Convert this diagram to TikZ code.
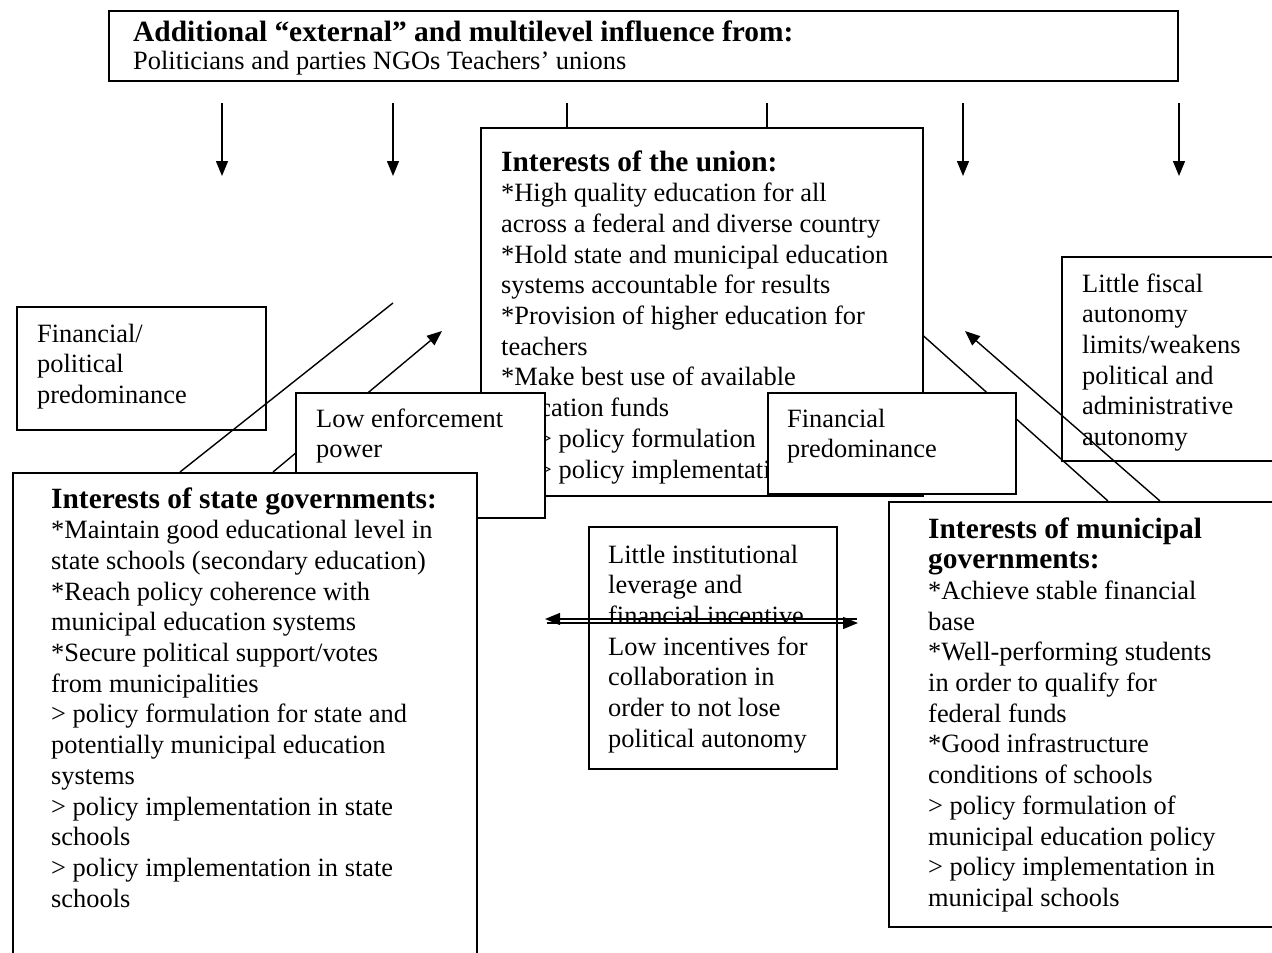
\documentclass[tikz,border=0pt]{standalone}
\usepackage{fontspec}
\setmainfont{Liberation Serif}
\usetikzlibrary{arrows.meta,calc}
\pgfdeclarelayer{bg}
\pgfdeclarelayer{mid}
\pgfsetlayers{bg,mid,main}
\tikzset{
  box/.style={draw, line width=1.6pt, fill=white, inner sep=0pt, anchor=north west, rectangle},
  txt/.style={anchor=base west, inner sep=0pt, text width=900pt, align=flush left, font=\fontsize{26.4}{30.7}\selectfont},
  con/.style={line width=1.4pt},
  arr/.style={con, -{Triangle[length=15pt,width=12pt]}}
}
\newcommand\hd[1]{{\fontsize{29.4}{32}\selectfont\bfseries #1}}
\begin{document}
\begin{tikzpicture}[x=1pt,y=-1pt]
\useasboundingbox (0,0) rectangle (1272,953);

% ---------- main layer: top box ----------
\node[box, minimum width=1069pt, minimum height=70pt] (top) at (108,10) {};
\node[txt] (toptxt) at (133,41) {\hd{Additional “external” and multilevel influence from:}\\[-2pt]Politicians and parties NGOs Teachers’ unions};

% ---------- state governments ----------
\node[box, minimum width=464pt, minimum height=540pt] (state) at (12,472) {};
\node[txt] (statetxt) at (51,508) {\hd{Interests of state governments:}\\{}*Maintain good educational level in\\state schools (secondary education)\\{}*Reach policy coherence with\\municipal education systems\\{}*Secure political support/votes\\from municipalities\\> policy formulation for state and\\potentially municipal education\\systems\\> policy implementation in state\\schools\\> policy implementation in state\\schools};

% ---------- municipal governments ----------
\node[box, minimum width=420pt, minimum height=425pt] (muni) at (888,501) {};
\node[txt] (munitxt) at (928,538) {\hd{Interests of municipal}\\\hd{governments:}\\{}*Achieve stable financial\\base\\{}*Well-performing students\\in order to qualify for\\federal funds\\{}*Good infrastructure\\conditions of schools\\> policy formulation of\\municipal education policy\\> policy implementation in\\municipal schools};

% ---------- middle boxes ----------
\node[box, minimum width=248pt, minimum height=96pt] (midA) at (588,526) {};
\node[txt] (midAtxt) at (608,563) {Little institutional\\leverage and\\financial incentive};
\node[box, minimum width=248pt, minimum height=146pt] (midB) at (588,622) {};
\node[txt] (midBtxt) at (608,655) {Low incentives for\\collaboration in\\order to not lose\\political autonomy};
\coordinate (mL1) at (545,619);
\coordinate (mR1) at (857,619);
\coordinate (mL2) at (547,623);
\coordinate (mR2) at (858,623);
\draw[arr] (mR1) -- (mL1);
\draw[arr] (mL2) -- (mR2);

% ---------- union (background) ----------
\begin{pgfonlayer}{bg}
\node[box, minimum width=442pt, minimum height=368pt] (union) at (480,127) {};
\node[txt] (uniontxt) at (501,171) {\hd{Interests of the union:}\\{}*High quality education for all\\across a federal and diverse country\\{}*Hold state and municipal education\\systems accountable for results\\{}*Provision of higher education for\\teachers\\{}*Make best use of available\\education funds\\\hspace*{36pt}> policy formulation\\\hspace*{36pt}> policy implementation};

\node[box, minimum width=249pt, minimum height=123pt] (finpol) at (16,306) {};
\node[txt] (finpoltxt) at (37,342) {Financial/\\political\\predominance};

\coordinate (l5end) at (393,303);
\coordinate (a6tip) at (442,331);
\draw[con] ($(state.north west)+(168,0)$) -- (l5end);
\draw[arr] ($(state.north west)+(261,0)$) -- (a6tip);

\draw[con] ($(union.north east)+(0,209)$) -- ($(muni.north west)+(220,0)$);

\node[box, minimum width=240pt, minimum height=204pt] (fiscal) at (1061,256) {};
\node[txt] (fiscaltxt) at (1082,292) {Little fiscal\\autonomy\\limits/weakens\\political and\\administrative\\autonomy};
\end{pgfonlayer}

% ---------- middle layer boxes ----------
\begin{pgfonlayer}{mid}
\node[box, minimum width=249pt, minimum height=125pt] (lowenf) at (295,392) {};
\node[txt] (lowenftxt) at (316,427) {Low enforcement\\power};
\node[box, minimum width=248pt, minimum height=101pt] (finpred) at (767,392) {};
\node[txt] (finpredtxt) at (787,427) {Financial\\predominance};
\end{pgfonlayer}

% ---------- arrows from the top ----------
\foreach \i/\x in {1/222,2/393,3/963,4/1179}{
  \coordinate (t\i) at (\x,103);
  \coordinate (h\i) at (\x,176);
  \draw[arr] (t\i) -- (h\i);
}
\coordinate (u1) at (567,103);
\coordinate (u2) at (767,103);
\draw[con] (u1) -- (u1 |- union.north);
\draw[con] (u2) -- (u2 |- union.north);

% ---------- arrow from municipal to union ----------
\coordinate (a10tip) at (965,331);
\draw[arr] ($(muni.north west)+(272,0)$) -- (a10tip);
\end{tikzpicture}
\end{document}
